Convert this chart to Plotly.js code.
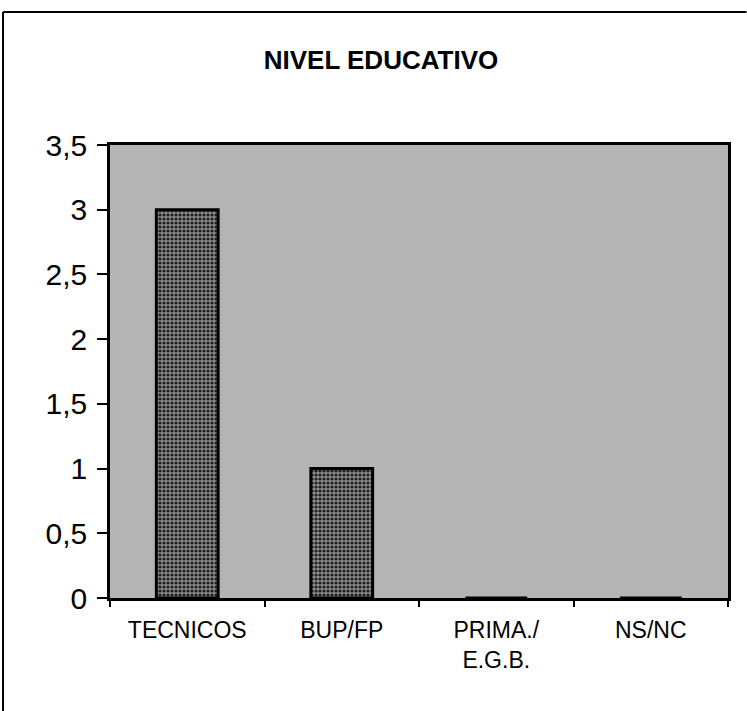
<!DOCTYPE html>
<html>
<head>
<meta charset="utf-8">
<script src="https://cdn.plot.ly/plotly-3.0.1.min.js"></script>
<style>
  html, body { margin: 0; padding: 0; background: #ffffff; }
  #chart { width: 747px; height: 711px; }
</style>
</head>
<body>
<div id="chart"></div>
<script>
// Data
const categories = ["TECNICOS", "BUP/FP", "PRIMA./<br>E.G.B.", "NS/NC"];
const values = [3, 1, 0, 0];
const yTickValues = [0, 0.5, 1, 1.5, 2, 2.5, 3, 3.5];
const chartTitle = "NIVEL EDUCATIVO";

const trace = {
  type: "bar",
  x: categories,
  y: values,
  width: 0.4,
  marker: {
    color: "#707070",
    line: { color: "#000000", width: 3 },
    pattern: { shape: ".", fgcolor: "#1e1e1e", bgcolor: "#8c8c8c", size: 4, solidity: 0.5, fillmode: "replace" }
  },
  hoverinfo: "x+y"
};

const layout = {
  width: 747,
  height: 711,
  margin: { l: 110, r: 19, t: 145, b: 113 },
  paper_bgcolor: "#ffffff",
  plot_bgcolor: "#b5b5b5",
  separators: ",.",
  showlegend: false,
  font: { family: "Liberation Sans, Arial, sans-serif", color: "#000000" },
  title: {
    text: "<b>" + chartTitle + "</b>",
    font: { family: "Liberation Sans, Arial, sans-serif", size: 26, color: "#000000" },
    x: 0.51, xref: "container", xanchor: "center",
    y: 0.916, yref: "container", yanchor: "middle"
  },
  xaxis: {
    type: "category",
    tickson: "boundaries",
    ticks: "outside",
    ticklen: 6,
    tickwidth: 1.5,
    tickcolor: "#000000",
    showline: true,
    linecolor: "#000000",
    linewidth: 2.5,
    mirror: true,
    showgrid: false,
    tickfont: { size: 23, color: "#000000" },
    ticklabelstandoff: 10
  },
  yaxis: {
    range: [0, 3.5],
    tickvals: yTickValues,
    ticks: "outside",
    ticklen: 10,
    tickwidth: 1.5,
    tickcolor: "#000000",
    showline: true,
    linecolor: "#000000",
    linewidth: 2.5,
    mirror: true,
    showgrid: false,
    zeroline: false,
    tickfont: { size: 30, color: "#000000" },
    ticklabelstandoff: 4
  },
  shapes: [
    { type: "line", xref: "paper", yref: "paper", x0: -0.1731, x1: -0.1731, y0: 1.2936, y1: -0.26, line: { color: "#000000", width: 2 } },
    { type: "line", xref: "paper", yref: "paper", x0: -0.1731, x1: 1.03, y0: 1.2936, y1: 1.2936, line: { color: "#000000", width: 2 } }
  ]
};

Plotly.newPlot("chart", [trace], layout, { displayModeBar: false, responsive: false });
</script>
</body>
</html>
